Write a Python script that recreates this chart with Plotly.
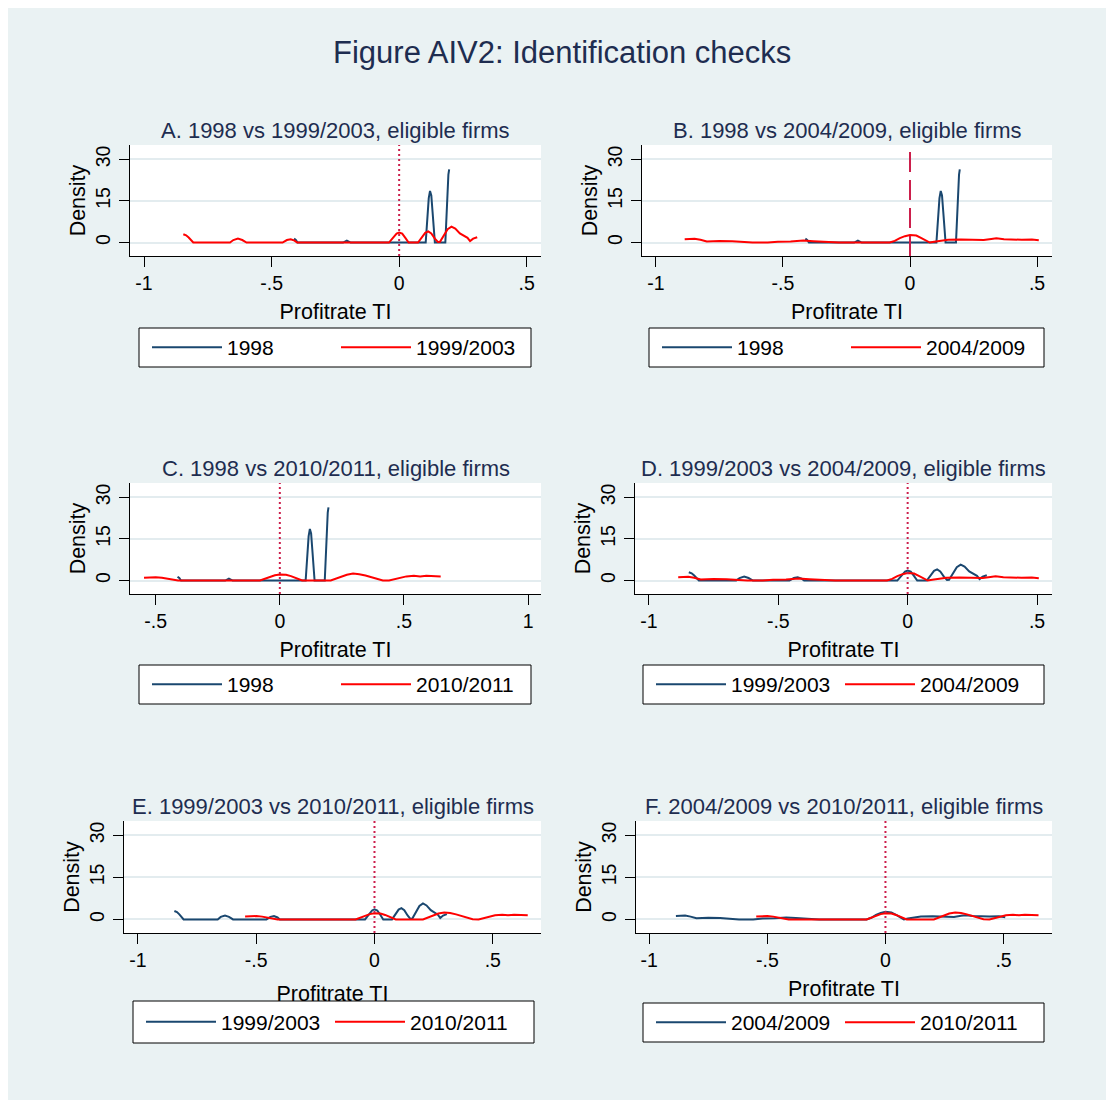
import plotly.graph_objects as go

W, H = 1114, 1108

# ---------------- data ----------------
x_1998 = [-0.412, -0.405, -0.398, -0.22, -0.205, -0.19, 0.104, 0.110, 0.116, 0.121,
          0.126, 0.131, 0.136, 0.140, 0.181, 0.186, 0.190, 0.193, 0.196]
y_1998 = [1.4, 0.9, 0.0, 0.0, 0.7, 0.0, 0.0, 8.0, 16.0, 18.6,
          17.0, 11.0, 4.0, 0.0, 0.0, 12.0, 21.0, 24.5, 26.4]

x_9903 = [-0.846, -0.835, -0.825, -0.815, -0.807, -0.663, -0.65, -0.632, -0.615, -0.598,
          -0.457, -0.44, -0.425, -0.41, -0.40, -0.04, -0.025, -0.01, 0.0, 0.012,
          0.025, 0.037, 0.074, 0.09, 0.102, 0.114, 0.126, 0.14, 0.152, 0.16,
          0.175, 0.19, 0.205, 0.22, 0.238, 0.257, 0.268, 0.278, 0.29, 0.306]
y_9903 = [3.0, 2.6, 1.8, 0.6, 0.0, 0.0, 0.9, 1.4, 0.9, 0.0,
          0.0, 0.9, 1.2, 0.7, 0.0, 0.0, 1.8, 3.2, 3.6, 3.2,
          1.6, 0.0, 0.0, 2.0, 3.5, 4.0, 3.3, 1.4, 0.2, 0.3,
          2.6, 4.8, 5.7, 5.0, 3.3, 2.2, 1.7, 0.5, 1.4, 1.9]

x_0409 = [-0.887, -0.865, -0.848, -0.825, -0.80, -0.775, -0.75, -0.70, -0.66, -0.62,
          -0.56, -0.52, -0.47, -0.42, -0.38, -0.33, -0.28, -0.08, -0.06, -0.04,
          -0.02, 0.0, 0.025, 0.045, 0.065, 0.078, 0.095, 0.12, 0.15, 0.2,
          0.25, 0.29, 0.32, 0.34, 0.37, 0.40, 0.44, 0.48, 0.507]
y_0409 = [1.2, 1.3, 1.4, 1.0, 0.4, 0.5, 0.6, 0.5, 0.2, 0.0,
          0.0, 0.3, 0.4, 0.7, 0.5, 0.2, 0.0, 0.0, 0.6, 1.6,
          2.3, 2.7, 2.5, 1.6, 0.6, 0.0, 0.3, 0.7, 1.0, 1.1,
          1.0, 0.9, 1.3, 1.5, 1.2, 1.0, 1.0, 1.1, 0.8]

x_1011 = [-0.547, -0.525, -0.50, -0.475, -0.45, -0.43, -0.41, -0.08, -0.06, -0.04,
          -0.02, 0.0, 0.025, 0.045, 0.065, 0.08, 0.09, 0.205, 0.225, 0.25,
          0.27, 0.295, 0.32, 0.345, 0.37, 0.395, 0.415, 0.44, 0.46, 0.48,
          0.51, 0.54, 0.565, 0.59, 0.615, 0.635, 0.648]
y_1011 = [1.0, 1.15, 1.2, 1.0, 0.6, 0.25, 0.0, 0.0, 0.6, 1.3,
          1.9, 2.2, 2.1, 1.6, 0.8, 0.2, 0.0, 0.0, 0.6, 1.4,
          2.1, 2.5, 2.3, 1.8, 1.1, 0.4, 0.05, 0.0, 0.4, 1.0,
          1.5, 1.7, 1.5, 1.7, 1.5, 1.6, 1.5]

series = {
    "1998": (x_1998, y_1998),
    "1999/2003": (x_9903, y_9903),
    "2004/2009": (x_0409, y_0409),
    "2010/2011": (x_1011, y_1011),
}

panel_titles = [
    "A. 1998 vs 1999/2003, eligible firms",
    "B. 1998 vs 2004/2009, eligible firms",
    "C. 1998 vs 2010/2011, eligible firms",
    "D. 1999/2003 vs 2004/2009, eligible firms",
    "E. 1999/2003 vs 2010/2011, eligible firms",
    "F. 2004/2009 vs 2010/2011, eligible firms",
]
panel_pairs = [
    ("1998", "1999/2003"),
    ("1998", "2004/2009"),
    ("1998", "2010/2011"),
    ("1999/2003", "2004/2009"),
    ("1999/2003", "2010/2011"),
    ("2004/2009", "2010/2011"),
]

xtick_vals_std = [-1, -0.5, 0, 0.5]
xtick_text_std = ["-1", "-.5", "0", ".5"]
xtick_vals_c = [-0.5, 0, 0.5, 1]
xtick_text_c = ["-.5", "0", ".5", "1"]
ytick_vals = [0, 15, 30]
ytick_text = ["0", "15", "30"]

main_title = "Figure AIV2: Identification checks"
x_title = "Profitrate TI"
y_title = "Density"

# ---------------- layout geometry (pixels) ----------------
# plot boxes: left, right, top, bottom
boxes = [
    (130, 541, 145, 256),
    (642, 1052, 145, 256),
    (130, 541, 483, 594),
    (635, 1052, 483, 594),
    (124, 541, 821, 933),
    (636, 1052, 821, 933),
]
xranges = [
    [-1.055, 0.556],
    [-1.055, 0.559],
    [-0.6035, 1.052],
    [-1.054, 0.558],
    [-1.059, 0.704],
    [-1.056, 0.705],
]
yrange = [-4.85, 35.15]
legend_boxes = [
    (139, 531, 328, 367),
    (649, 1044, 328, 367),
    (139, 531, 665, 704),
    (643, 1044, 665, 704),
    (133, 534, 1001, 1043),
    (643, 1044, 1003, 1042),
]
title_y = [130, 130, 468, 468, 806, 806]
xtitle_standoff = [10, 10, 10, 10, 15, 10]
vline_dash = ["2px,3px", "20px,8px", "2px,3px", "2px,3px", "2px,3px", "2px,3px"]

BLUE = "#1A476F"
RED = "#FF0000"
VLINE = "#CC1F4C"
NAVY = "#1E2D50"
BG = "#EAF2F3"
FONT = "Arial, 'Liberation Sans', sans-serif"


def px(x):
    return x / W


def py(y):
    return 1 - y / H


fig = go.Figure()
layout = dict(
    width=W, height=H,
    margin=dict(l=0, r=0, t=0, b=0),
    paper_bgcolor=BG,
    plot_bgcolor="white",
    font=dict(family=FONT, color="black"),
    showlegend=True,
)
shapes = []
annotations = []

for i in range(6):
    n = i + 1
    sfx = "" if n == 1 else str(n)
    xa, ya = "x" + sfx, "y" + sfx
    leg = "legend" + sfx
    l, r, t, b = boxes[i]
    blue_name, red_name = panel_pairs[i]
    for name, color in ((blue_name, BLUE), (red_name, RED)):
        xs, ys = series[name]
        fig.add_trace(go.Scatter(
            x=xs, y=ys, mode="lines", name=name,
            line=dict(color=color, width=2),
            xaxis=xa, yaxis=ya, legend=leg, showlegend=True,
            hoverinfo="skip",
        ))
    if i == 2:
        tv, tt = xtick_vals_c, xtick_text_c
    else:
        tv, tt = xtick_vals_std, xtick_text_std
    layout["xaxis" + sfx] = dict(
        domain=[px(l), px(r)], range=xranges[i], anchor=ya,
        tickmode="array", tickvals=tv, ticktext=tt,
        ticks="outside", ticklen=10, tickwidth=1, tickcolor="black",
        showline=True, linecolor="black", linewidth=1,
        showgrid=False, zeroline=False,
        tickfont=dict(size=19.5, color="black"),
        ticklabelstandoff=0,
        title=dict(text=x_title, font=dict(size=21.5, color="black"),
                   standoff=xtitle_standoff[i]),
        fixedrange=True,
    )
    layout["yaxis" + sfx] = dict(
        domain=[py(b), py(t)], range=yrange, anchor=xa,
        tickmode="array", tickvals=ytick_vals, ticktext=ytick_text,
        tickangle=-90,
        ticks="outside", ticklen=10, tickwidth=1, tickcolor="black",
        showline=True, linecolor="black", linewidth=1,
        showgrid=True, gridcolor="#E3ECEF", gridwidth=2, zeroline=False,
        tickfont=dict(size=19.5, color="black"),
        ticklabelstandoff=1,
        title=dict(text=y_title, font=dict(size=21.5, color="black"), standoff=0),
        fixedrange=True,
    )
    # reference line at zero
    shapes.append(dict(
        type="line", xref=xa, yref=ya + " domain", x0=0, x1=0, y0=0, y1=1,
        line=dict(color=VLINE, width=2, dash=vline_dash[i]), layer="above",
    ))
    # legend box
    ll, lr, lt, lb = legend_boxes[i]
    shapes.append(dict(
        type="rect", xref="paper", yref="paper",
        x0=px(ll), x1=px(lr), y0=py(lb), y1=py(lt),
        line=dict(color="black", width=1), fillcolor="white", layer="above",
    ))
    layout[leg] = dict(
        orientation="h", x=px(ll + 8), xanchor="left",
        y=py((lt + lb) / 2), yanchor="middle",
        bgcolor="rgba(0,0,0,0)", borderwidth=0,
        font=dict(size=21, color="black", family=FONT),
        itemwidth=70, entrywidth=104, traceorder="normal",
    )
    # panel title
    annotations.append(dict(
        text=panel_titles[i], xref="paper", yref="paper",
        x=px((l + r) / 2), y=py(title_y[i]), xanchor="center", yanchor="middle",
        showarrow=False, font=dict(size=22, color=NAVY, family=FONT),
    ))

# white outer frame
shapes.append(dict(
    type="rect", xref="paper", yref="paper", x0=0, x1=1, y0=0, y1=1,
    line=dict(color="white", width=16), fillcolor="rgba(0,0,0,0)", layer="above",
))
annotations.append(dict(
    text=main_title, xref="paper", yref="paper", x=px(562), y=py(52),
    xanchor="center", yanchor="middle", showarrow=False,
    font=dict(size=31, color=NAVY, family=FONT),
))

layout["shapes"] = shapes
layout["annotations"] = annotations
fig.update_layout(**layout)
fig.write_html("out.html")
